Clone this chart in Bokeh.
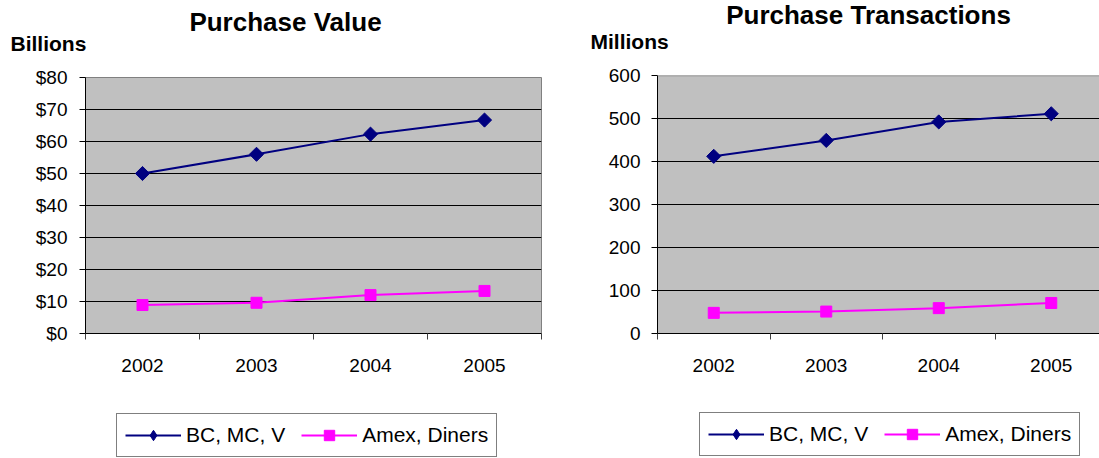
import math

from bokeh.core.properties import value
from bokeh.embed import file_html
from bokeh.layouts import column, row
from bokeh.models import (BasicTickFormatter, FixedTicker, Legend, LegendItem,
                          NumeralTickFormatter, Range1d, SingleIntervalTicker,
                          Span)
from bokeh.plotting import figure
from bokeh.resources import INLINE

# ---- data -------------------------------------------------------------
years = [2002, 2003, 2004, 2005]
series_names = ["BC, MC, V", "Amex, Diners"]

# purchase value, $ billions
value_bc_mc_v = [50.0, 56.0, 62.3, 66.7]
value_amex_diners = [8.9, 9.6, 12.0, 13.3]

# purchase transactions, millions
txn_bc_mc_v = [412, 449, 492, 511]
txn_amex_diners = [48, 51, 59, 71]

# ---- style ------------------------------------------------------------
FONT = "Liberation Sans"
NAVY = "#000080"
MAGENTA = "#FF00FF"
PLOT_BG = "#C0C0C0"
EDGE = "#808080"
HEADER_H = 60      # title strip
CHART_H = 335      # axes + plot area
FOOTER_H = 63      # legend strip


def blank_strip(width, height):
    """A figure whose frame fills the whole canvas, in pixel-like units
    measured from the top-left corner."""
    f = figure(width=width, height=height, output_backend="svg",
               toolbar_location=None, x_axis_type=None, y_axis_type=None,
               x_range=Range1d(0, width), y_range=Range1d(height, 0),
               min_border=0)
    f.outline_line_color = None
    f.background_fill_color = "white"
    f.border_fill_color = "white"
    return f


def make_header(width, title, title_cx, title_y, unit, unit_x, unit_y):
    h = blank_strip(width, HEADER_H)
    h.text(x=[title_cx], y=[title_y], text=[title],
           text_font=value(FONT), text_font_size="26px",
           text_font_style="bold", text_align="center",
           text_baseline="alphabetic", text_color="black")
    h.text(x=[unit_x], y=[unit_y], text=[unit],
           text_font=value(FONT), text_font_size="21px",
           text_font_style="bold", text_align="left",
           text_baseline="alphabetic", text_color="black")
    return h


def draw_series(fig, xs, ys_a, ys_b, bc_marker="square", bc_angle=math.pi / 4):
    a_line = fig.line(xs, ys_a, line_color=NAVY, line_width=2)
    a_pts = fig.scatter(xs, ys_a, marker=bc_marker, angle=bc_angle, size=10,
                        fill_color=NAVY, line_color=NAVY)
    b_line = fig.line(xs, ys_b, line_color=MAGENTA, line_width=2)
    b_pts = fig.scatter(xs, ys_b, marker="square", size=11,
                        fill_color=MAGENTA, line_color=MAGENTA)
    return (a_line, a_pts), (b_line, b_pts)


def make_chart(series_a, series_b, y_max, y_step, fmt, width, border_left,
               border_right, border_top, frame_h, x_end, y_standoff,
               full_outline):
    p = figure(width=width, height=CHART_H, output_backend="svg",
               toolbar_location=None,
               x_range=Range1d(years[0] - 0.5, x_end),
               y_range=Range1d(0, y_max),
               min_border_left=border_left, min_border_right=border_right,
               min_border_top=border_top,
               min_border_bottom=CHART_H - border_top - frame_h)
    p.background_fill_color = PLOT_BG
    p.border_fill_color = "white"
    if full_outline:
        p.outline_line_color = EDGE
        p.outline_line_width = 1
    else:
        p.outline_line_color = None
        p.add_layout(Span(location=y_max, dimension="width",
                          line_color=EDGE, line_width=1.5))

    # value axis
    yax = p.yaxis[0]
    yax.ticker = SingleIntervalTicker(interval=y_step, num_minor_ticks=0)
    yax.formatter = fmt
    yax.axis_line_color = "black"
    yax.major_tick_line_color = "black"
    yax.major_tick_out = 6
    yax.major_tick_in = 0
    yax.minor_tick_line_color = None
    yax.major_label_standoff = y_standoff
    yax.major_label_text_font = FONT
    yax.major_label_text_font_size = "19px"
    yax.major_label_text_color = "black"

    # year axis: labels under each year, tick marks between years
    xax = p.xaxis[0]
    xax.ticker = FixedTicker(ticks=years,
                             minor_ticks=[y - 0.5 for y in years] + [years[-1] + 0.5])
    xax.formatter = BasicTickFormatter(use_scientific=False)
    xax.axis_line_color = "black"
    xax.major_tick_line_color = None
    xax.major_tick_out = 0
    xax.major_tick_in = 0
    xax.minor_tick_line_color = "#404040"
    xax.minor_tick_out = 6
    xax.minor_tick_in = 0
    xax.major_label_standoff = 19
    xax.major_label_text_font = FONT
    xax.major_label_text_font_size = "19px"
    xax.major_label_text_color = "black"

    p.xgrid.visible = False
    p.ygrid.grid_line_color = "black"
    p.ygrid.grid_line_width = 1

    draw_series(p, years, series_a, series_b)
    return p


def make_footer(width, series_a, series_b, legend_x, legend_y):
    f = blank_strip(width, FOOTER_H)
    # same series drawn here only to feed the legend swatches; they fall
    # outside this strip's ranges so only the legend shows.  Legend markers
    # are never rotated, so the diamond swatch uses the diamond marker.
    a, b = draw_series(f, years, series_a, series_b,
                       bc_marker="diamond", bc_angle=0)
    leg = Legend(items=[LegendItem(label=series_names[0], renderers=list(a)),
                        LegendItem(label=series_names[1], renderers=list(b))],
                 orientation="horizontal", location=(legend_x, legend_y))
    leg.label_text_font = FONT
    leg.label_text_font_size = "21px"
    leg.label_text_color = "black"
    leg.glyph_width = 56
    leg.glyph_height = 26
    leg.label_standoff = 5
    leg.spacing = 16
    leg.padding = 8
    leg.border_line_color = "black"
    leg.border_line_width = 1
    leg.background_fill_color = "white"
    leg.background_fill_alpha = 1.0
    f.add_layout(leg, "center")
    return f


# each strip sits in its own row so the column leaves its frame alone
left_col = column(
    row(make_header(549, "Purchase Value", 285, 21, "Billions", 10, 43)),
    row(make_chart(value_bc_mc_v, value_amex_diners, 80, 10,
                   NumeralTickFormatter(format="$0"), width=549, border_left=85,
                   border_right=8, border_top=17, frame_h=256,
                   x_end=years[-1] + 0.5, y_standoff=12, full_outline=True)),
    row(make_footer(549, value_bc_mc_v, value_amex_diners, 116, 1)),
)

right_col = column(
    row(make_header(550, "Purchase Transactions", 868 - 549, 14,
                    "Millions", 590 - 549, 41)),
    row(make_chart(txn_bc_mc_v, txn_amex_diners, 600, 100,
                   NumeralTickFormatter(format="0"), width=550, border_left=108,
                   border_right=0, border_top=15, frame_h=258,
                   x_end=years[0] - 0.5 + 442 / 112.5,
                   y_standoff=11, full_outline=False)),
    row(make_footer(550, txn_bc_mc_v, txn_amex_diners, 699 - 549, 2)),
)

layout = row(left_col, right_col)
open("out.html", "w").write(file_html(layout, INLINE))
